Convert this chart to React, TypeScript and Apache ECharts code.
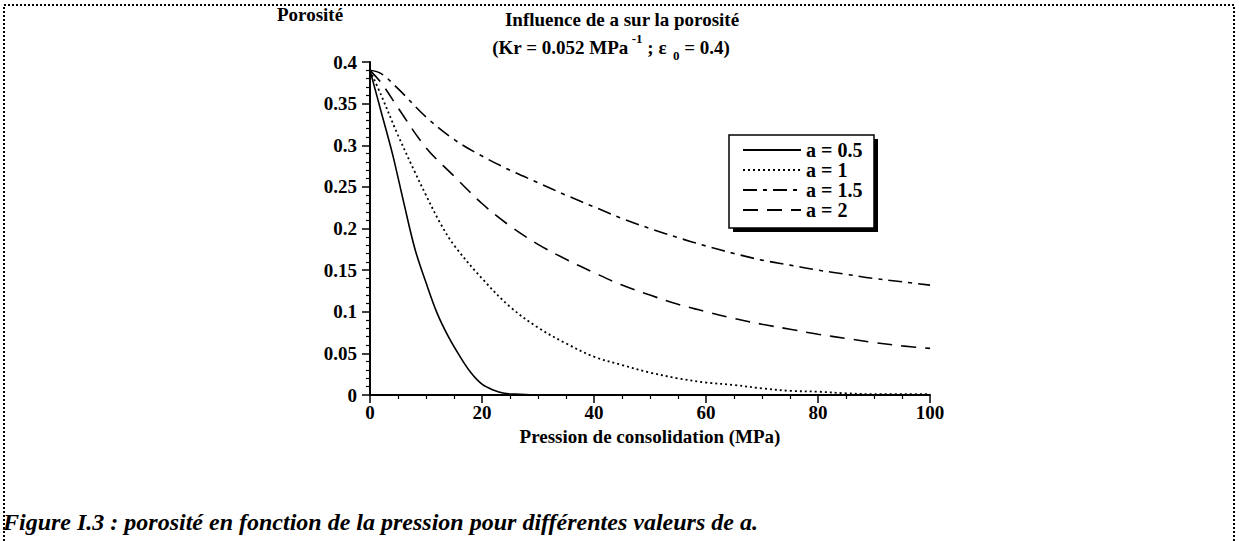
import React, { useEffect, useRef } from "react";
import * as echarts from "echarts";

// Pressure (MPa) and porosity values
const pressureA05 = [0, 2, 4, 6, 8, 10, 12, 14, 16, 18, 20, 22, 24, 26, 30, 100];
const porosityA05 = [0.39, 0.34, 0.29, 0.232, 0.176, 0.135, 0.098, 0.07, 0.047, 0.027, 0.013, 0.006, 0.002, 0.001, 0, 0];

const pressureA1 = [0, 2, 5, 8, 10, 12.5, 15, 20, 25, 30, 35, 40, 45, 50, 55, 60, 65, 70, 75, 80, 85, 90, 100];
const porosityA1 = [0.39, 0.36, 0.312, 0.268, 0.24, 0.207, 0.18, 0.14, 0.106, 0.081, 0.062, 0.046, 0.036, 0.027, 0.02, 0.015, 0.012, 0.008, 0.005, 0.004, 0.002, 0.001, 0.001];

const pressureA15 = [0, 2, 5, 10, 15, 20, 25, 30, 35, 40, 45, 50, 55, 60, 65, 70, 75, 80, 85, 90, 95, 100];
const porosityA15 = [0.39, 0.386, 0.368, 0.334, 0.307, 0.287, 0.27, 0.255, 0.24, 0.226, 0.212, 0.2, 0.189, 0.179, 0.17, 0.162, 0.156, 0.15, 0.145, 0.14, 0.136, 0.132];

const pressureA2 = [0, 2, 5, 10, 15, 20, 25, 30, 35, 40, 45, 50, 55, 60, 65, 70, 75, 80, 85, 90, 95, 100];
const porosityA2 = [0.39, 0.375, 0.345, 0.297, 0.263, 0.23, 0.203, 0.181, 0.163, 0.147, 0.132, 0.12, 0.109, 0.1, 0.092, 0.085, 0.079, 0.073, 0.068, 0.063, 0.059, 0.056];

const seriesNames = ["a = 0.5", "a = 1", "a = 1.5", "a = 2"];

const titleText = "Influence de a sur la porosité";
const yAxisName = "Porosité";
const xAxisName = "Pression de consolidation (MPa)";
const captionText = "Figure I.3 : porosité en fonction de la pression pour différentes valeurs de a.";

const FONT = '"Liberation Serif", "Times New Roman", serif';

function pairs(xs: number[], ys: number[]) {
  return xs.map((x, i) => [x, ys[i]]);
}

export default function App() {
  const ref = useRef<HTMLDivElement>(null);
  useEffect(() => {
    const chart = echarts.init(ref.current!, null, { renderer: "svg" });
    const baseLine = { width: 1.6, color: "#000" };
    const lineSeries = (name: string, xs: number[], ys: number[], lineStyle: any) => ({
      name,
      type: "line",
      symbol: "none",
      showSymbol: false,
      smooth: 0.35,
      data: pairs(xs, ys),
      lineStyle: { ...baseLine, ...lineStyle },
      itemStyle: { color: "#000" },
    });
    chart.setOption({
      animation: false,
      backgroundColor: "#fff",
      textStyle: { fontFamily: FONT, color: "#000" },
      title: {
        text: titleText,
        left: 617,
        top: 5,
        textAlign: "center",
        textStyle: { fontFamily: FONT, fontWeight: "bold", fontSize: 19, color: "#000" },
      },
      grid: { left: 370, right: 309, top: 62, bottom: 146 },
      legend: {
        orient: "vertical",
        left: 742,
        top: 140,
        padding: 0,
        itemGap: 0,
        itemWidth: 58,
        itemHeight: 14,
        z: 10,
        data: seriesNames,
        itemStyle: { opacity: 0, borderWidth: 0 },
        textStyle: { fontFamily: FONT, fontWeight: "bold", fontSize: 20, color: "#000" },
      },
      xAxis: {
        type: "value",
        min: 0,
        max: 100,
        interval: 20,
        name: xAxisName,
        nameLocation: "middle",
        nameGap: 32,
        nameTextStyle: { fontFamily: FONT, fontWeight: "bold", fontSize: 19, color: "#000" },
        axisLine: { show: true, lineStyle: { color: "#000", width: 2 } },
        axisTick: { show: true, length: 8, lineStyle: { color: "#000", width: 1.5 } },
        minorTick: { show: true, splitNumber: 4, length: 4, lineStyle: { color: "#000", width: 1.2 } },
        splitLine: { show: false },
        axisLabel: { margin: 8, fontFamily: FONT, fontWeight: "bold", fontSize: 19, color: "#000" },
      },
      yAxis: {
        type: "value",
        min: 0,
        max: 0.4,
        interval: 0.05,
        name: yAxisName,
        nameLocation: "end",
        nameGap: 38,
        nameTextStyle: { fontFamily: FONT, fontWeight: "bold", fontSize: 19, color: "#000", padding: [0, 120, 0, 0] },
        axisLine: { show: true, lineStyle: { color: "#000", width: 2 } },
        axisTick: { show: true, length: 8, lineStyle: { color: "#000", width: 1.5 } },
        minorTick: { show: true, splitNumber: 5, length: 4, lineStyle: { color: "#000", width: 1.2 } },
        splitLine: { show: false },
        axisLabel: {
          margin: 13,
          fontFamily: FONT,
          fontWeight: "bold",
          fontSize: 19,
          color: "#000",
          formatter: (v: number) => String(+v.toFixed(2)),
        },
      },
      series: [
        lineSeries(seriesNames[0], pressureA05, porosityA05, { type: "solid" }),
        lineSeries(seriesNames[1], pressureA1, porosityA1, { width: 1.8, type: [2, 3] }),
        lineSeries(seriesNames[2], pressureA15, porosityA15, { type: [14, 6, 4, 6] }),
        lineSeries(seriesNames[3], pressureA2, porosityA2, { type: [15, 9] }),
      ],
      graphic: [
        {
          type: "polyline",
          z: 1,
          shape: { points: [[4, 541], [4, 5], [1234, 5], [1234, 541]] },
          style: { stroke: "#000", lineWidth: 2, lineDash: [2, 2], fill: null },
        },
        {
          type: "rect",
          z: 1,
          shape: { x: 733, y: 139, width: 145, height: 93 },
          style: { fill: "#000" },
        },
        {
          type: "rect",
          z: 2,
          shape: { x: 729, y: 135, width: 145, height: 93 },
          style: { fill: "#fff", stroke: "#000", lineWidth: 1.5 },
        },
        {
          type: "text",
          z: 3,
          x: 611,
          y: 47,
          style: {
            text: "(Kr = 0.052 MPa{sup| -1} ; ε{sub|  0} = 0.4)",
            align: "center",
            verticalAlign: "middle",
            font: `bold 19px ${FONT}`,
            fill: "#000",
            lineHeight: 30,
            rich: {
              sup: { fontSize: 13, fontWeight: "bold", fontFamily: FONT, verticalAlign: "top", lineHeight: 30, padding: [0, 0, 12, 0] },
              sub: { fontSize: 13, fontWeight: "bold", fontFamily: FONT, verticalAlign: "bottom", lineHeight: 30, padding: [14, 0, 0, 0] },
            },
          },
        },
        {
          type: "text",
          z: 3,
          x: 3,
          y: 522,
          style: {
            text: captionText,
            align: "left",
            verticalAlign: "middle",
            font: `italic bold 24px ${FONT}`,
            fill: "#000",
          },
        },
      ],
    });
    return () => chart.dispose();
  }, []);
  return (
    <div
      ref={ref}
      style={{ position: "fixed", left: 0, top: 0, width: 1239, height: 541, background: "#fff" }}
    />
  );
}
